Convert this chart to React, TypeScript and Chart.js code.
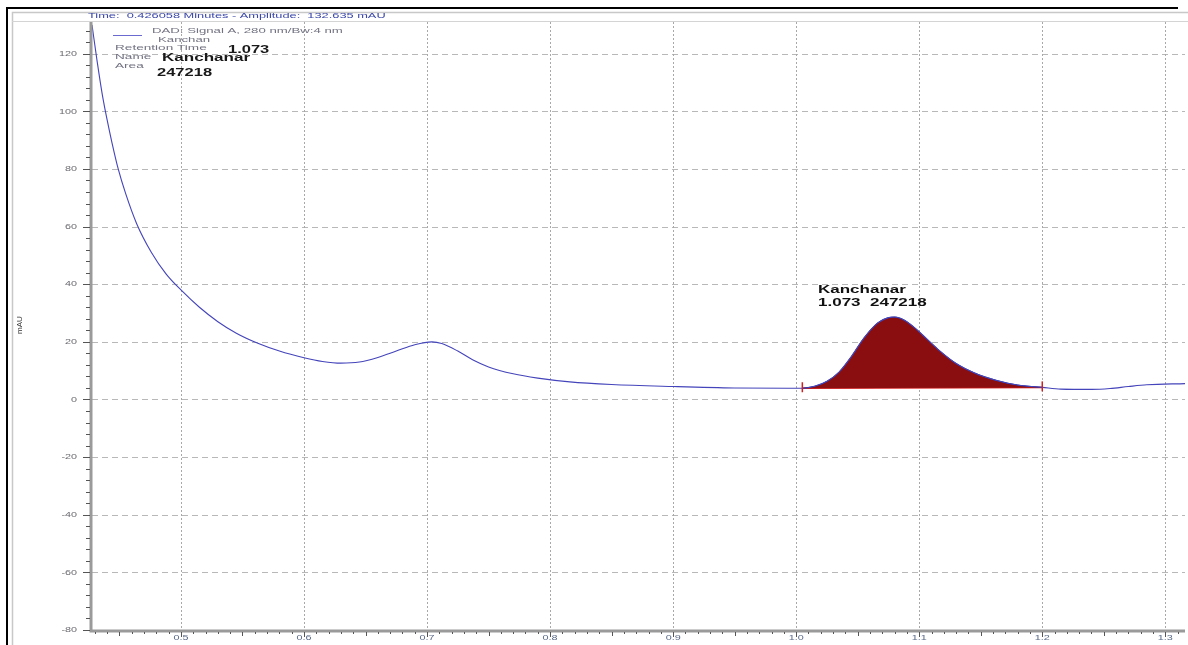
import { useEffect, useRef } from 'react';
import { Chart, registerables } from 'chart.js';

Chart.register(...registerables);

// Chromatogram trace: retention time (min) vs. detector signal (mAU)
const traceTime = [
  0.4277, 0.432, 0.436, 0.44, 0.444, 0.449, 0.455, 0.464, 0.476, 0.488, 0.5, 0.515, 0.53,
  0.545, 0.5625, 0.58, 0.6, 0.615, 0.63, 0.645, 0.66, 0.675, 0.69, 0.704, 0.712, 0.725,
  0.737, 0.75, 0.77, 0.79, 0.816, 0.85, 0.9, 0.95, 1.005, 1.015, 1.025, 1.035, 1.045, 1.055,
  1.066, 1.075, 1.08, 1.088, 1.096, 1.103, 1.115, 1.13, 1.145, 1.163, 1.18, 1.2, 1.215, 1.24,
  1.255, 1.27, 1.285, 1.316,
];
const traceSignal = [
  130, 117, 106, 97, 89, 80, 71.5, 61, 51, 43.5, 38, 32, 27,
  23, 19.5, 16.8, 14.5, 13.2, 12.6, 13, 14.6, 16.8, 19, 20, 19.4, 16.8,
  13.8, 11.3, 8.9, 7.4, 6.1, 5.2, 4.5, 4, 3.9, 4.6, 6.3, 9.6, 15, 21.3,
  26.5, 28.4, 28.6, 27.5, 25, 22.3, 17.5, 12.5, 9.2, 6.6, 5.0, 4.2, 3.6, 3.5,
  3.8, 4.5, 5.1, 5.5,
];

// Integrated peak
const peakName = 'Kanchanar';
const peakRetention = '1.073';
const peakArea = '247218';
const peakStart = 1.005;
const peakEnd = 1.2;
const baselineStartSignal = 3.9;
const baselineEndSignal = 4.2;

// Axis ticks
const xTickValues = [0.5, 0.6, 0.7, 0.8, 0.9, 1.0, 1.1, 1.2, 1.3];
const xTickLabels = ['0.5', '0.6', '0.7', '0.8', '0.9', '1.0', '1.1', '1.2', '1.3'];
const yTickValues = [-80, -60, -40, -20, 0, 20, 40, 60, 80, 100, 120];
const yTickLabels = ['-80', '-60', '-40', '-20', '0', '20', '40', '60', '80', '100', '120'];

const headerText = 'Time:  0.426058 Minutes - Amplitude:  132.635 mAU';
const signalName = 'DAD: Signal A, 280 nm/Bw:4 nm';
const sampleName = 'Kanchan';

const FONT = '"Liberation Sans", Arial, sans-serif';
// the report's text is set in a wide face: stretch glyphs horizontally
const WIDE = 1.65;

function wideText(
  ctx: CanvasRenderingContext2D,
  text: string,
  x: number,
  y: number,
  font: string,
  color: string,
  sx: number,
  align: CanvasTextAlign = 'left',
) {
  ctx.save();
  ctx.translate(x, y);
  ctx.scale(sx, 1);
  ctx.font = font;
  ctx.fillStyle = color;
  ctx.textAlign = align;
  ctx.textBaseline = 'middle';
  ctx.fillText(text, 0, 0);
  ctx.restore();
}

const decor = {
  id: 'decor',
  beforeDraw(chart: any) {
    const { ctx, width, height } = chart;
    ctx.save();
    ctx.fillStyle = '#ffffff';
    ctx.fillRect(0, 0, width, height);
    ctx.restore();
  },
  beforeDatasetsDraw(chart: any) {
    const { ctx, chartArea: a, scales } = chart;
    const x = scales.x;
    const y = scales.y;
    ctx.save();
    // horizontal dashed grid
    ctx.strokeStyle = '#b8b8b8';
    ctx.lineWidth = 1;
    ctx.setLineDash([6, 4]);
    yTickValues.forEach((v) => {
      const py = Math.round(y.getPixelForValue(v)) + 0.5;
      ctx.beginPath();
      ctx.moveTo(a.left, py);
      ctx.lineTo(a.right, py);
      ctx.stroke();
    });
    // vertical dotted grid
    ctx.strokeStyle = '#a8a8a8';
    ctx.setLineDash([2, 2]);
    xTickValues.forEach((v) => {
      const px = Math.round(x.getPixelForValue(v)) + 0.5;
      ctx.beginPath();
      ctx.moveTo(px, a.top);
      ctx.lineTo(px, a.bottom);
      ctx.stroke();
    });
    ctx.restore();
  },
  afterDraw(chart: any) {
    const { ctx, chartArea: a, scales, width, height } = chart;
    const x = scales.x;
    const y = scales.y;
    ctx.save();

    // outer frame
    ctx.strokeStyle = '#000000';
    ctx.lineWidth = 2;
    ctx.beginPath();
    ctx.moveTo(7, height);
    ctx.lineTo(7, 8);
    ctx.lineTo(1178, 8);
    ctx.stroke();
    ctx.strokeStyle = '#c8c8c8';
    ctx.lineWidth = 1.5;
    ctx.beginPath();
    ctx.moveTo(12.5, height);
    ctx.lineTo(12.5, 12.5);
    ctx.lineTo(width, 12.5);
    ctx.stroke();
    ctx.strokeStyle = '#d4d4d4';
    ctx.lineWidth = 1;
    ctx.beginPath();
    ctx.moveTo(12, a.top - 0.5);
    ctx.lineTo(width, a.top - 0.5);
    ctx.stroke();

    // axis lines
    ctx.strokeStyle = '#9a9a9a';
    ctx.lineWidth = 3;
    ctx.beginPath();
    ctx.moveTo(a.left - 1, a.top);
    ctx.lineTo(a.left - 1, a.bottom + 1);
    ctx.lineTo(a.right, a.bottom + 1);
    ctx.stroke();

    // minor and major ticks
    ctx.strokeStyle = '#555555';
    ctx.lineWidth = 1;
    for (let v = -80; v <= 130; v += 4) {
      const py = Math.round(y.getPixelForValue(v)) + 0.5;
      const len = v % 20 === 0 ? 7 : 4;
      ctx.beginPath();
      ctx.moveTo(a.left - 2, py);
      ctx.lineTo(a.left - 2 - len, py);
      ctx.stroke();
    }
    for (let i = 43; i <= 131; i++) {
      const v = i / 100;
      const px = Math.round(x.getPixelForValue(v)) + 0.5;
      const len = i % 10 === 0 ? 5 : i % 5 === 0 ? 4 : 2;
      ctx.beginPath();
      ctx.moveTo(px, a.bottom + 2);
      ctx.lineTo(px, a.bottom + 2 + len);
      ctx.stroke();
    }

    // tick labels
    yTickValues.forEach((v, i) => {
      wideText(ctx, yTickLabels[i], 77, y.getPixelForValue(v), `8px ${FONT}`, '#6a6a70', 1.35, 'right');
    });
    xTickValues.forEach((v, i) => {
      wideText(ctx, xTickLabels[i], x.getPixelForValue(v), 638, `8px ${FONT}`, '#5a6a88', 1.35, 'center');
    });

    // peak boundary markers
    ctx.strokeStyle = '#d02020';
    ctx.lineWidth = 1.5;
    [[peakStart, baselineStartSignal], [peakEnd, baselineEndSignal]].forEach(([t, s]) => {
      const px = x.getPixelForValue(t);
      const py = y.getPixelForValue(s);
      ctx.beginPath();
      ctx.moveTo(px, py - 6);
      ctx.lineTo(px, py + 4);
      ctx.stroke();
    });

    // header
    wideText(ctx, headerText, 88, 16, `8px ${FONT}`, '#3a46a8', 1.6);

    // legend block
    ctx.strokeStyle = '#6a6ad0';
    ctx.lineWidth = 1;
    ctx.beginPath();
    ctx.moveTo(113, 35.5);
    ctx.lineTo(142, 35.5);
    ctx.stroke();
    const grey = '#727282';
    wideText(ctx, signalName, 152, 31, `8px ${FONT}`, grey, 1.65);
    wideText(ctx, sampleName, 158, 40, `8px ${FONT}`, grey, 1.65);
    wideText(ctx, 'Retention Time', 115, 48, `8px ${FONT}`, grey, 1.7);
    wideText(ctx, 'Name', 115, 57, `8px ${FONT}`, grey, 1.7);
    wideText(ctx, 'Area', 115, 66, `8px ${FONT}`, grey, 1.7);
    wideText(ctx, peakRetention, 228, 50, `bold 10px ${FONT}`, '#1a1a1a', WIDE);
    wideText(ctx, peakName, 162, 58, `bold 11px ${FONT}`, '#1a1a1a', 1.55);
    wideText(ctx, peakArea, 157, 73, `bold 10px ${FONT}`, '#1a1a1a', WIDE);

    // peak annotation
    wideText(ctx, peakName, 818, 290, `bold 10px ${FONT}`, '#111111', 1.7);
    wideText(ctx, `${peakRetention}  ${peakArea}`, 818, 303, `bold 10px ${FONT}`, '#111111', 1.7);

    // y axis title
    ctx.save();
    ctx.translate(20, 325);
    ctx.rotate(-Math.PI / 2);
    ctx.textAlign = 'center';
    ctx.textBaseline = 'middle';
    ctx.fillStyle = '#333333';
    ctx.font = `8px ${FONT}`;
    ctx.fillText('mAU', 0, 0);
    ctx.restore();

    ctx.restore();
  },
};

export default function App() {
  const ref = useRef<HTMLCanvasElement | null>(null);

  useEffect(() => {
    if (!ref.current) return;
    const trace = traceTime.map((t, i) => ({ x: t, y: traceSignal[i] }));
    const peak = trace.filter((p) => p.x >= peakStart && p.x <= peakEnd);
    const baseline = [
      { x: peakStart, y: baselineStartSignal },
      { x: peakEnd, y: baselineEndSignal },
    ];

    const chart = new Chart(ref.current, {
      type: 'line',
      data: {
        datasets: [
          {
            label: signalName,
            data: trace,
            borderColor: '#4444bb',
            borderWidth: 1.1,
            pointRadius: 0,
            cubicInterpolationMode: 'monotone',
            fill: false,
            order: 0,
          },
          {
            label: peakName,
            data: peak,
            borderColor: '#2a2a90',
            borderWidth: 1,
            backgroundColor: '#8a0d0f',
            pointRadius: 0,
            cubicInterpolationMode: 'monotone',
            fill: '+1',
            order: 1,
          },
          {
            label: 'baseline',
            data: baseline,
            borderColor: '#d42020',
            borderWidth: 1.5,
            pointRadius: 0,
            fill: false,
            order: 2,
          },
        ],
      },
      options: {
        animation: false,
        responsive: false,
        maintainAspectRatio: false,
        layout: { padding: { left: 0, top: 22, right: 3, bottom: 0 } },
        plugins: { legend: { display: false }, tooltip: { enabled: false } },
        scales: {
          x: {
            type: 'linear',
            min: 0.4277,
            max: 1.316,
            grid: { display: false, drawTicks: false },
            border: { display: false },
            afterBuildTicks: (s: any) => {
              s.ticks = xTickValues.map((v) => ({ value: v }));
            },
            afterFit: (s: any) => {
              s.height = 15;
            },
            ticks: { display: false },
          },
          y: {
            type: 'linear',
            min: -80,
            max: 131,
            grid: { display: false, drawTicks: false },
            border: { display: false },
            afterBuildTicks: (s: any) => {
              s.ticks = yTickValues.map((v) => ({ value: v }));
            },
            afterFit: (s: any) => {
              s.width = 92;
            },
            ticks: { display: false },
          },
        },
      },
      plugins: [decor],
    });
    return () => chart.destroy();
  }, []);

  return (
    <div style={{ position: 'fixed', left: 0, top: 0, width: 1188, height: 645, background: '#fff' }}>
      <canvas ref={ref} width={1188} height={645} style={{ display: 'block' }} />
    </div>
  );
}
